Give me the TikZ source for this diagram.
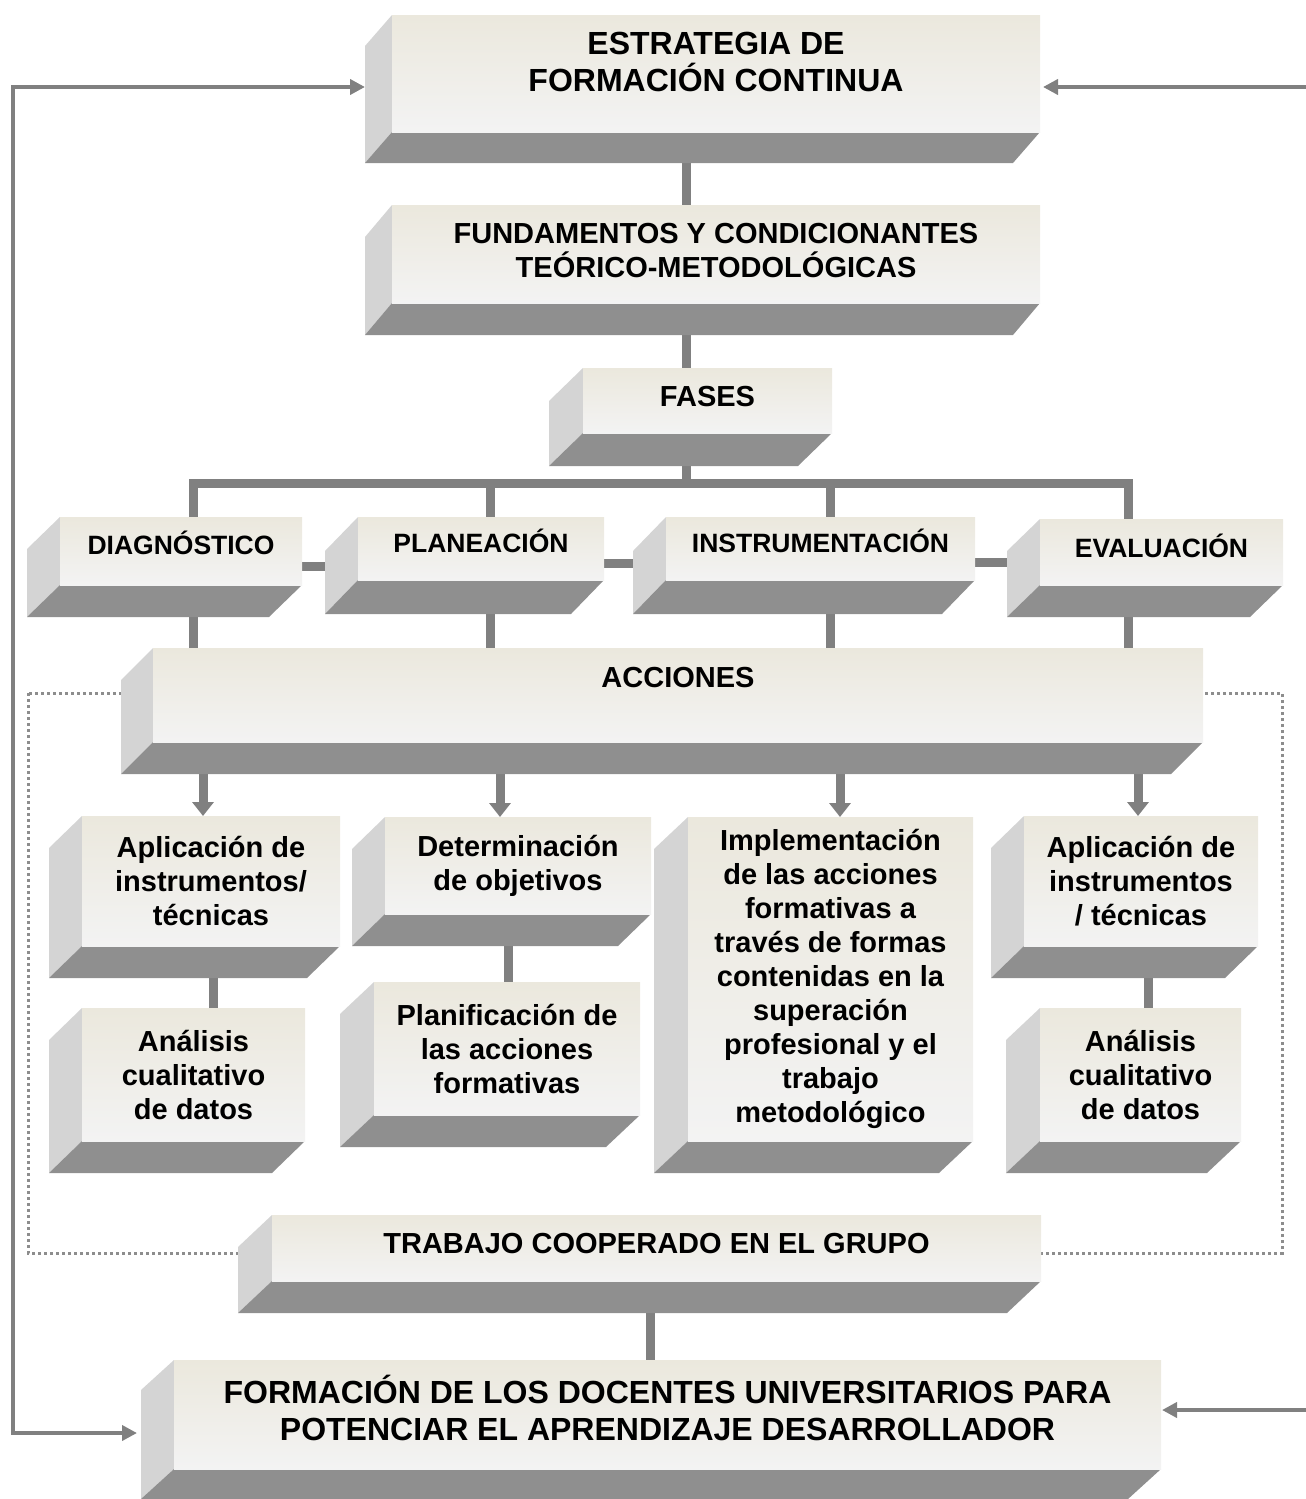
\documentclass[tikz,border=0pt]{standalone}
\usepackage{fontspec}
\setmainfont{Liberation Sans}
\usepackage{tikz}
\usetikzlibrary{arrows.meta, calc, backgrounds}

\definecolor{faceTop}{HTML}{EBE8DD}
\definecolor{faceBot}{HTML}{F3F3F3}
\definecolor{sideL}{HTML}{D4D4D4}
\definecolor{sideB}{HTML}{8F8F8F}
\definecolor{linkgray}{HTML}{808080}

\begin{document}
\begin{tikzpicture}[
  x=0.5pt, y=-0.5pt,
  face/.style 2 args={top color=faceTop, bottom color=faceBot, minimum width=#1*0.5pt,
                      minimum height=#2*0.5pt, inner sep=2pt, outer sep=0pt, align=center,
                      font=\fontsize{14.5}{17}\selectfont\bfseries},
  phase/.style={font=\fontsize{13.25}{16}\selectfont\bfseries},
  title/.style={font=\fontsize{16}{18.5}\selectfont\bfseries},
  lift/.style={text depth=#1pt},
  link/.style={draw=linkgray, line width=4.5pt},
  down/.style={link, ->, >={Triangle[length=7pt,width=10.5pt]}},
  fback/.style={draw=linkgray, line width=2pt, >={Triangle[length=7.5pt,width=7.5pt]}},
  dotframe/.style={draw=linkgray!90, line width=1.5pt, dash pattern=on 1.5pt off 1.5pt}
]
\useasboundingbox (0,0) rectangle (1306,1499);

% front faces
\node[face={648}{117}, title, lift=12] (estr) at (716,73.5) {ESTRATEGIA DE\\FORMACIÓN CONTINUA};
\node[face={648}{98}, lift=4] (fund) at (716,254) {FUNDAMENTOS Y CONDICIONANTES\\TEÓRICO-METODOLÓGICAS};
\node[face={249}{65}, lift=4] (fases) at (707.5,400.5) {FASES};
\node[face={242}{68}, phase, lift=8] (diag) at (181,551) {DIAGNÓSTICO};
\node[face={246}{63}, phase, lift=8] (plan) at (481,548.5) {PLANEACIÓN};
\node[face={309}{63}, phase, lift=8] (instr) at (820.5,548.5) {INSTRUMENTACIÓN};
\node[face={243}{66}, phase, lift=6] (eval) at (1161.5,552) {EVALUACIÓN};
\node[face={1050}{94}, lift=18] (acc) at (678,695) {ACCIONES};
\node[face={258}{130}] (aplA) at (211,881) {Aplicación de\\instrumentos/\\técnicas};
\node[face={266}{97}] (det) at (518,865.5) {Determinación\\de objetivos};
\node[face={285}{324}] (impl) at (830.5,979) {Implementación\\de las acciones\\formativas a\\través de formas\\contenidas en la\\superación\\profesional y el\\trabajo\\metodológico};
\node[face={234}{130}] (aplB) at (1141,881) {Aplicación de\\instrumentos\\/ técnicas};
\node[face={223}{133}] (anaA) at (193.5,1074.5) {Análisis\\cualitativo\\de datos};
\node[face={266}{133}] (plf) at (507,1048.5) {Planificación de\\las acciones\\formativas};
\node[face={201}{133}] (anaB) at (1140.5,1074.5) {Análisis\\cualitativo\\de datos};
\node[face={769}{66}, lift=5] (trab) at (656.5,1248) {TRABAJO COOPERADO EN EL GRUPO};
\node[face={987}{109}, title, lift=7] (form) at (667.5,1414.5) {FORMACIÓN DE LOS DOCENTES UNIVERSITARIOS PARA\\POTENCIAR EL APRENDIZAJE DESARROLLADOR};

\coordinate (bar) at (686,483);
\coordinate (loopT) at (13,87);
\coordinate (loopB) at (13,1433);
\coordinate (edgeT) at (1306,87);
\coordinate (edgeB) at (1306,1410);

\begin{scope}[on background layer]
  \draw[dotframe] (28,693) rectangle (1282,1253);
  % connectors, half hidden behind the boxes
  \draw[link] ([xshift=-15pt]estr.south) -- ([xshift=-15pt]estr.south |- fund.north);
  \draw[link] ([xshift=-15pt]fund.south) -- ([xshift=-15pt]fund.south |- fases.north);
  \draw[link] (fases.south -| bar) -- (bar);
  \draw[link] ([xshift=6pt]diag.north) |- (bar) -| ([xshift=-16.75pt]eval.north);
  \draw[link] ([xshift=4.5pt]plan.north) -- ([xshift=4.5pt]plan.north |- bar);
  \draw[link] ([xshift=4.75pt]instr.north) -- ([xshift=4.75pt]instr.north |- bar);
  \draw[link] ([yshift=-7.5pt]diag.east) -- ([yshift=-7.5pt]diag.east -| plan.west);
  \draw[link] ([yshift=-7.25pt]plan.east) -- ([yshift=-7.25pt]plan.east -| instr.west);
  \draw[link] ([yshift=-6.75pt]instr.east) -- ([yshift=-6.75pt]instr.east -| eval.west);
  \draw[link] ([xshift=6pt]diag.south) -- ([xshift=6pt]diag.south |- acc.north);
  \draw[link] ([xshift=4.5pt]plan.south) -- ([xshift=4.5pt]plan.south |- acc.north);
  \draw[link] ([xshift=4.75pt]instr.south) -- ([xshift=4.75pt]instr.south |- acc.north);
  \draw[link] ([xshift=-16.75pt]eval.south) -- ([xshift=-16.75pt]eval.south |- acc.north);
  \draw[down] ([xshift=-4pt]aplA.north |- acc.south) -- ([xshift=-4pt]aplA.north);
  \draw[down] ([xshift=-9pt]det.north |- acc.south) -- ([xshift=-9pt]det.north);
  \draw[down] ([xshift=4.75pt]impl.north |- acc.south) -- ([xshift=4.75pt]impl.north);
  \draw[down] ([xshift=-1.5pt]aplB.north |- acc.south) -- ([xshift=-1.5pt]aplB.north);
  \draw[link] ([xshift=1pt]aplA.south) -- ([xshift=1pt]aplA.south |- anaA.north);
  \draw[link] ([xshift=-5pt]det.south) -- ([xshift=-5pt]det.south |- plf.north);
  \draw[link] ([xshift=3.5pt]aplB.south) -- ([xshift=3.5pt]aplB.south |- anaB.north);
  \draw[link] ([xshift=-3.25pt]trab.south) -- ([xshift=-3.25pt]trab.south |- form.north);
  % side and bottom faces
  \foreach \n/\dx/\dy in {estr/27/31, fund/27/32, fases/34/33, diag/33/32, plan/33/34,
      instr/33/34, eval/33/32, acc/32/32, aplA/33/32, det/33/32, impl/34/32, aplB/33/32,
      anaA/33/32, plf/34/32, anaB/34/32, trab/34/32, form/33/30} {
    \fill[sideL] (\n.north west) -- ++(-\dx,\dy) -- ($(\n.south west)+(-\dx,\dy)$) -- (\n.south west) -- cycle;
    \fill[sideB] (\n.south west) -- (\n.south east) -- ++(-\dx,\dy) -- ($(\n.south west)+(-\dx,\dy)$) -- cycle;
  }
\end{scope}

% feedback arrows
\draw[fback, <->] ([xshift=-13.5pt]estr.west |- loopT) -- (loopT) -- (loopB) -- ([xshift=-18.5pt]form.west |- loopB);
\draw[fback, ->] (edgeT) -- ([xshift=1.5pt]estr.east |- edgeT);
\draw[fback, ->] (edgeB) -- ([xshift=0.5pt]form.east |- edgeB);
\end{tikzpicture}
\end{document}
